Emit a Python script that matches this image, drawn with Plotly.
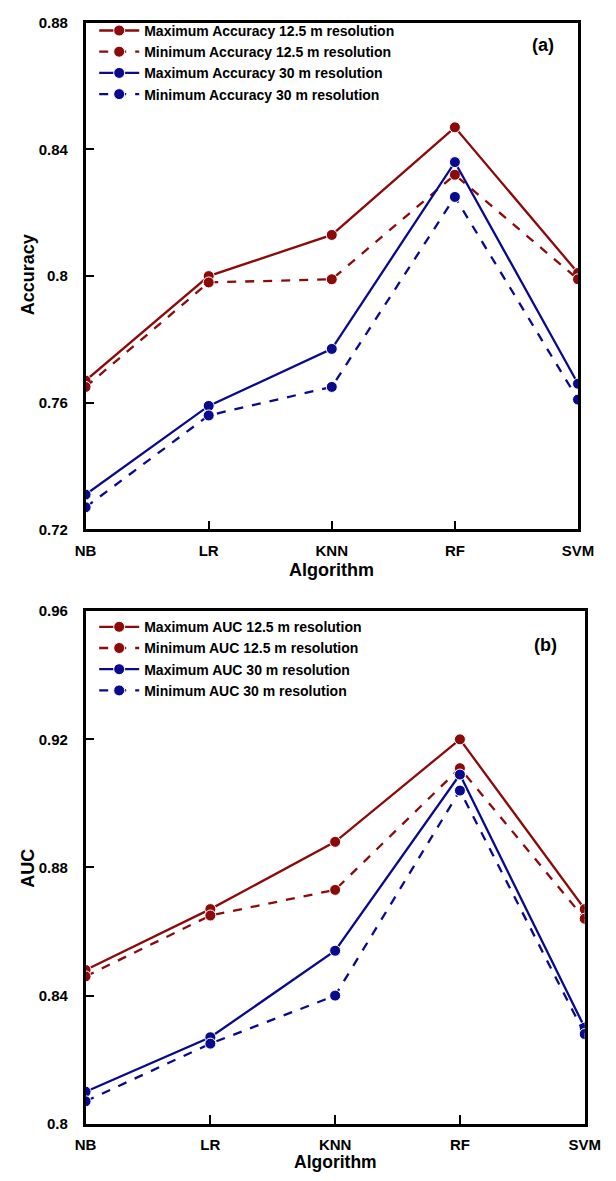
import plotly.graph_objects as go

algorithms = ["NB", "LR", "KNN", "RF", "SVM"]

acc_max_125 = [0.767, 0.800, 0.813, 0.847, 0.801]
acc_min_125 = [0.765, 0.798, 0.799, 0.832, 0.799]
acc_max_30 = [0.731, 0.759, 0.777, 0.836, 0.766]
acc_min_30 = [0.727, 0.756, 0.765, 0.825, 0.761]

auc_max_125 = [0.848, 0.867, 0.888, 0.920, 0.867]
auc_min_125 = [0.846, 0.865, 0.873, 0.911, 0.864]
auc_max_30 = [0.810, 0.827, 0.854, 0.909, 0.830]
auc_min_30 = [0.807, 0.825, 0.840, 0.904, 0.828]

acc_ticks = [0.72, 0.76, 0.80, 0.84, 0.88]
acc_tick_text = ["0.72", "0.76", "0.8", "0.84", "0.88"]
auc_ticks = [0.80, 0.84, 0.88, 0.92, 0.96]
auc_tick_text = ["0.8", "0.84", "0.88", "0.92", "0.96"]

RED = "#8B0A0A"
BLUE = "#0A0A8C"
FONT = "Liberation Sans, Arial, sans-serif"
W, H = 616, 1181

fig = go.Figure()

def add(y, name, color, dash, xa, ya, legend):
    fig.add_trace(go.Scatter(
        x=algorithms, y=y, name=name, mode="lines+markers",
        line=dict(color=color, width=2.3, dash=dash),
        marker=dict(color=color, size=11, line=dict(color="white", width=1)),
        xaxis=xa, yaxis=ya, legend=legend,
    ))

add(acc_max_125, "Maximum Accuracy 12.5 m resolution", RED, "solid", "x", "y", "legend")
add(acc_min_125, "Minimum Accuracy 12.5 m resolution", RED, "dash", "x", "y", "legend")
add(acc_max_30, "Maximum Accuracy 30 m resolution", BLUE, "solid", "x", "y", "legend")
add(acc_min_30, "Minimum Accuracy 30 m resolution", BLUE, "dash", "x", "y", "legend")

add(auc_max_125, "Maximum AUC 12.5 m resolution", RED, "solid", "x2", "y2", "legend2")
add(auc_min_125, "Minimum AUC 12.5 m resolution", RED, "dash", "x2", "y2", "legend2")
add(auc_max_30, "Maximum AUC 30 m resolution", BLUE, "solid", "x2", "y2", "legend2")
add(auc_min_30, "Minimum AUC 30 m resolution", BLUE, "dash", "x2", "y2", "legend2")

top_xdom = [78 / W, 593 / W]
bot_xdom = [78 / W, 600 / W]
top_dom = [1 - 528 / H, 1 - 14 / H]
bot_dom = [1 - 1131 / H, 1 - 611 / H]

tickfont = dict(family=FONT, size=15, color="black", weight="bold")

xcommon = dict(
    range=[0, 4], tickmode="array", tickvals=list(range(5)),
    ticktext=algorithms, showline=True, linecolor="black", linewidth=2.5,
    mirror=True, ticks="inside", ticklen=9, tickwidth=2, tickcolor="black",
    showgrid=False, zeroline=False, tickfont=tickfont, ticklabelstandoff=6,
)
ycommon = dict(
    showline=True, linecolor="black", linewidth=2.5, mirror=True,
    ticks="inside", ticklen=9, tickwidth=2, tickcolor="black",
    showgrid=False, zeroline=False, tickfont=tickfont, ticklabelstandoff=12,
)

legfont = dict(family=FONT, size=14, color="black", weight="bold")

fig.update_layout(
    width=W, height=H, margin=dict(l=0, r=0, t=0, b=0),
    paper_bgcolor="white", plot_bgcolor="white",
    font=dict(family=FONT, color="black"),
    xaxis=dict(**xcommon, domain=top_xdom, anchor="y"),
    yaxis=dict(**ycommon, domain=top_dom, range=[0.72, 0.88],
               tickvals=acc_ticks, ticktext=acc_tick_text, anchor="x"),
    xaxis2=dict(**xcommon, domain=bot_xdom, anchor="y2"),
    yaxis2=dict(**ycommon, domain=bot_dom, range=[0.80, 0.96],
                tickvals=auc_ticks, ticktext=auc_tick_text, anchor="x2"),
    legend=dict(x=87 / W, y=1 - 6 / H, xanchor="left", yanchor="top",
                bgcolor="rgba(0,0,0,0)", tracegroupgap=0, itemwidth=40,
                font=legfont),
    legend2=dict(x=87 / W, y=1 - 611 / H, xanchor="left", yanchor="top",
                 bgcolor="rgba(0,0,0,0)", tracegroupgap=0, itemwidth=40,
                 font=legfont),
    showlegend=True,
)

ann_font = dict(family=FONT, size=18, color="black", weight="bold")
annotations = [
    dict(text="(a)", x=556 / W, y=1 - 37 / H, font=ann_font),
    dict(text="(b)", x=559 / W, y=1 - 645 / H, font=ann_font),
    dict(text="Accuracy", x=18 / W, y=1 - 270 / H, textangle=-90, font=ann_font),
    dict(text="AUC", x=18 / W, y=1 - 872 / H, textangle=-90, font=ann_font),
    dict(text="Algorithm", x=sum(top_xdom) / 2, y=1 - 569 / H, font=ann_font),
    dict(text="Algorithm", x=sum(bot_xdom) / 2, y=1 - 1170 / H,
         font=dict(family=FONT, size=17.5, color="black", weight="bold")),
]
for a in annotations:
    a.update(xref="paper", yref="paper", xanchor="center", yanchor="middle",
             showarrow=False)
fig.update_layout(annotations=annotations)

fig.write_html("out.html")
